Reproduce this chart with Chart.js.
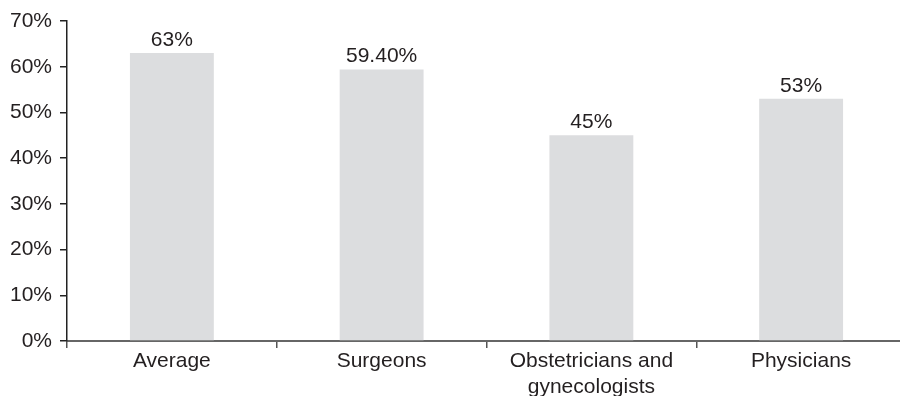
<!DOCTYPE html>
<html>
<head>
<meta charset="utf-8">
<script src="https://cdn.jsdelivr.net/npm/chart.js@4.4.0/dist/chart.umd.min.js"></script>
<style>
  html, body { margin: 0; padding: 0; background: #fff; overflow: hidden; }
  #wrap { width: 900px; height: 396px; overflow: hidden; }
</style>
</head>
<body>
<div id="wrap"><canvas id="c" width="906" height="396"></canvas></div>
<script>
// categories and values
const categories = ['Average', 'Surgeons', ['Obstetricians and', 'gynecologists'], 'Physicians'];
const shares = [63, 59.4, 45, 53];
const shareLabels = ['63%', '59.40%', '45%', '53%'];
const yTicks = [0, 10, 20, 30, 40, 50, 60, 70];

const FONT = "'Liberation Sans', Arial, sans-serif";
const TXT = '#231f20';

// value labels above each bar
const barLabels = {
  id: 'barLabels',
  afterDatasetsDraw(chart) {
    const ctx = chart.ctx;
    const meta = chart.getDatasetMeta(0);
    ctx.save();
    ctx.font = '21px ' + FONT;
    ctx.fillStyle = TXT;
    ctx.textAlign = 'center';
    ctx.textBaseline = 'alphabetic';
    meta.data.forEach((bar, i) => {
      ctx.fillText(shareLabels[i], bar.x, bar.y - 7);
    });
    ctx.restore();
  }
};

new Chart(document.getElementById('c'), {
  type: 'bar',
  data: {
    labels: categories,
    datasets: [{
      data: shares,
      backgroundColor: '#dcdddf',
      borderWidth: 0,
      barPercentage: 0.4,
      categoryPercentage: 1
    }]
  },
  options: {
    responsive: false,
    animation: false,
    layout: { padding: { top: 21, right: 0, bottom: 0, left: 0 } },
    plugins: { legend: { display: false }, tooltip: { enabled: false } },
    scales: {
      x: {
        grid: { drawOnChartArea: false, offset: true, tickLength: 7, color: '#555', lineWidth: 1.5 },
        border: { color: '#666', width: 2 },
        ticks: { color: TXT, font: { family: FONT, size: 21, lineHeight: 1.24 }, padding: 0, maxRotation: 0, autoSkip: false },
        afterFit: s => { s.height = 55; }
      },
      y: {
        min: 0, max: 70,
        afterBuildTicks: s => { s.ticks = yTicks.map(v => ({ value: v })); },
        grid: { drawOnChartArea: false, tickLength: 7, color: '#222', lineWidth: 1.5 },
        border: { color: '#222', width: 1.5 },
        ticks: { color: TXT, font: { family: FONT, size: 21 }, padding: 8, callback: v => v + '%' },
        afterFit: s => { s.width = 67; s.paddingTop = 0; s.paddingBottom = 0; }
      }
    }
  },
  plugins: [barLabels]
});
</script>
</body>
</html>
